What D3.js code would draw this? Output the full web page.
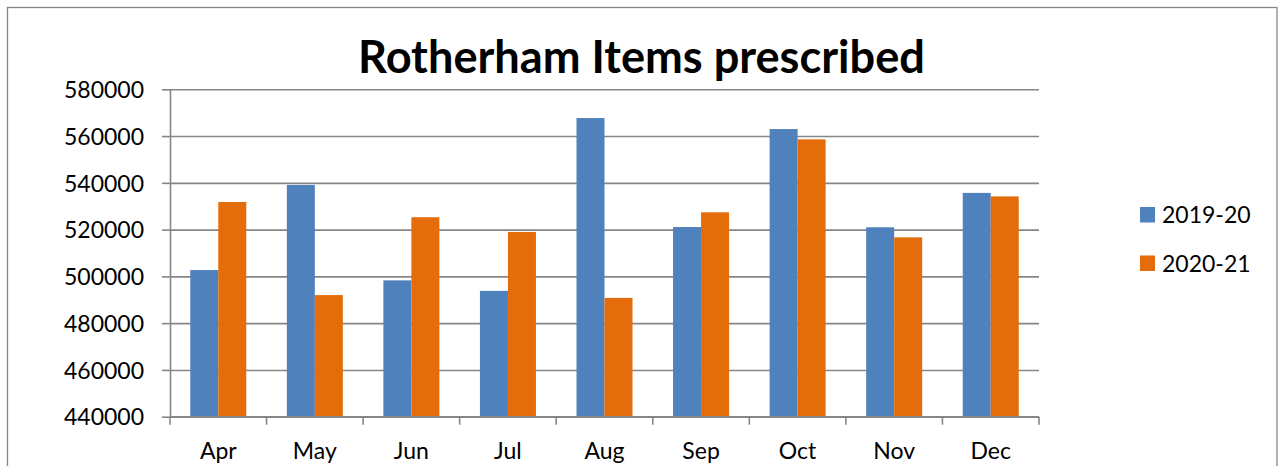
<!DOCTYPE html>
<html>
<head>
<meta charset="utf-8">
<script src="https://cdn.jsdelivr.net/npm/d3@7"></script>
<style>
  html, body { margin: 0; padding: 0; background: #fff; }
  svg { display: block; }
  text { font-family: Lato, "Open Sans", sans-serif; fill: #000; }
</style>
</head>
<body>
<svg id="chart" width="1281" height="466"></svg>
<script>
const title = "Rotherham Items prescribed";
const months = ["Apr", "May", "Jun", "Jul", "Aug", "Sep", "Oct", "Nov", "Dec"];
const seriesNames = ["2019-20", "2020-21"];
const values2019 = [502700, 539100, 498300, 493800, 567700, 521100, 563000, 521000, 535700];
const values2020 = [531800, 492000, 525300, 519000, 490800, 527400, 558600, 516700, 534200];
const yTicks = [440000, 460000, 480000, 500000, 520000, 540000, 560000, 580000];
const colors = ["#4F81BD", "#E46C0A"];

const svg = d3.select("#chart");
const W = 1281, H = 466;
const plotLeft = 170, plotRight = 1039, plotTop = 89.3, plotBottom = 416.7;
const gridColor = "#868686";

// outer border
svg.append("rect")
  .attr("x", 7.5).attr("y", 7.5)
  .attr("width", 1269.5).attr("height", H)
  .attr("fill", "#fff").attr("stroke", gridColor).attr("stroke-width", 1.3);

const x0 = d3.scaleBand().domain(months).range([plotLeft, plotRight]).padding(0);
const x1 = d3.scaleBand().domain(seriesNames).range([0, x0.bandwidth()])
  .paddingInner(0).paddingOuter(0.724);
const y = d3.scaleLinear().domain([440000, 580000]).range([plotBottom, plotTop]);

// gridlines + left tick marks
const yAxis = d3.axisLeft(y).tickValues(yTicks).tickSizeInner(8).tickSizeOuter(0).tickPadding(18).tickFormat(d3.format("d"));
const gy = svg.append("g").attr("transform", `translate(${plotLeft},0)`).call(yAxis);
gy.select(".domain").attr("stroke", gridColor).attr("stroke-width", 1.6);
gy.selectAll(".tick line").attr("stroke", gridColor).attr("stroke-width", 1.6);
gy.selectAll(".tick").append("line")
  .attr("x1", 0).attr("x2", plotRight - plotLeft)
  .attr("stroke", gridColor).attr("stroke-width", 1.6);
gy.selectAll(".tick text")
  .attr("font-family", "Lato, 'Open Sans', sans-serif")
  .attr("font-size", 23).attr("fill", "#000").attr("dy", "0.36em");

// bars
const data = months.map((m, i) => ({ month: m, vals: [values2019[i], values2020[i]] }));
const groups = svg.append("g").selectAll("g").data(data).join("g")
  .attr("transform", d => `translate(${x0(d.month)},0)`);
groups.selectAll("rect").data(d => d.vals.map((v, j) => ({ s: seriesNames[j], v, j })))
  .join("rect")
  .attr("x", d => x1(d.s))
  .attr("width", x1.bandwidth())
  .attr("y", d => y(d.v))
  .attr("height", d => y(440000) - y(d.v))
  .attr("fill", d => colors[d.j]);

// x axis
const xAxisG = svg.append("g").attr("transform", `translate(0,${plotBottom})`);
xAxisG.append("line").attr("x1", plotLeft).attr("x2", plotRight).attr("y1", 0).attr("y2", 0)
  .attr("stroke", gridColor).attr("stroke-width", 1.6);
const boundaries = months.map(m => x0(m)).concat([x0(months[months.length - 1]) + x0.bandwidth()]);
xAxisG.selectAll("line.tk").data(boundaries).join("line").attr("class", "tk")
  .attr("x1", d => d).attr("x2", d => d).attr("y1", 0).attr("y2", 8)
  .attr("stroke", gridColor).attr("stroke-width", 1.6);
xAxisG.selectAll("text").data(months).join("text")
  .attr("x", d => x0(d) + x0.bandwidth() / 2)
  .attr("y", 42)
  .attr("text-anchor", "middle")
  .attr("font-size", 23)
  .text(d => d);

// title
const t = svg.append("text")
  .attr("x", 641.5).attr("y", 73)
  .attr("text-anchor", "middle")
  .attr("font-weight", "bold")
  .attr("font-size", 40)
  .text(title);
const tw = t.node().getComputedTextLength();
t.attr("font-size", 40 * 567 / tw);

// legend
const lg = svg.append("g");
const legY = [207, 255.5];
seriesNames.forEach((s, i) => {
  lg.append("rect").attr("x", 1140).attr("y", legY[i]).attr("width", 15).attr("height", 15.5)
    .attr("fill", colors[i]);
  lg.append("text").attr("x", 1162).attr("y", legY[i] + 7.8).attr("dy", "0.36em")
    .attr("font-size", 23).text(s);
});
</script>
</body>
</html>
